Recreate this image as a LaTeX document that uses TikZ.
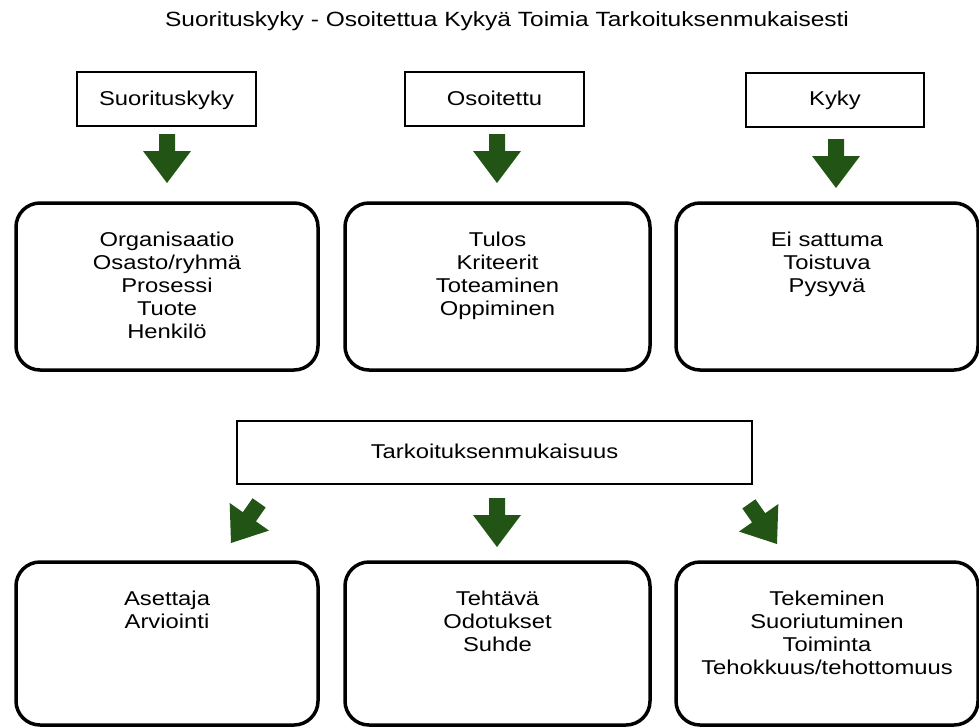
\documentclass[tikz,border=0pt]{standalone}
\usepackage{fontspec}
\setmainfont{Liberation Sans}[FakeStretch=1.19]
\definecolor{arrowgreen}{RGB}{34,84,22}
\begin{document}
\begin{tikzpicture}[x=1pt,y=-1pt,
  every node/.style={font=\fontsize{20}{23}\selectfont},
  plainbox/.style={draw=black, line width=2pt, rectangle, inner sep=0pt, text height=15pt, text depth=3pt},
  roundbox/.style={draw=black, line width=3.5pt, rectangle, rounded corners=24pt, inner sep=0pt},
  boxtext/.style={anchor=north, align=center, inner sep=0pt},
  blockarrow/.pic={\fill[arrowgreen] (-8,-49) -- (8,-49) -- (8,-32) -- (24,-32) -- (0,0) -- (-24,-32) -- (-8,-32) -- cycle;}]
\fill[white] (0,0) rectangle (979,726);
\useasboundingbox (0,0) rectangle (979,726);

% title
\node[font=\fontsize{20.6}{24}\selectfont] (title) at (507,21) {Suorituskyky - Osoitettua Kykyä Toimia Tarkoituksenmukaisesti};

% top small boxes
\node[plainbox, minimum width=179pt, minimum height=54pt] (s1) at (166.5,99) {Suorituskyky};
\node[plainbox, minimum width=179pt, minimum height=54pt] (s2) at (494.5,99) {Osoitettu};
\node[plainbox, minimum width=178pt, minimum height=54pt] (s3) at (835,99.5) {Kyky};

% arrows top
\pic at (167,183) {blockarrow};
\pic at (497,183) {blockarrow};
\pic at (836,188) {blockarrow};

% big boxes row 1
\node[roundbox, minimum width=302pt, minimum height=167pt] (b1) at (167,286.5) {};
\node[roundbox, minimum width=305pt, minimum height=167pt] (b2) at (497.5,286.5) {};
\node[roundbox, minimum width=302pt, minimum height=167pt] (b3) at (827,286.5) {};
\node[boxtext] (t1) at ([yshift=-31pt]b1.north) {Organisaatio\\Osasto/ryhmä\\Prosessi\\Tuote\\Henkilö};
\node[boxtext] (t2) at ([yshift=-31pt]b2.north) {Tulos\\Kriteerit\\Toteaminen\\Oppiminen};
\node[boxtext] (t3) at ([yshift=-31pt]b3.north) {Ei sattuma\\Toistuva\\Pysyvä};

% middle box
\node[plainbox, minimum width=515pt, minimum height=63pt] (mid) at (494.5,452.5) {Tarkoituksenmukaisuus};

% arrows bottom
\pic[rotate=-35] at (231,543) {blockarrow};
\pic at (497,547) {blockarrow};
\pic[rotate=35] at (777,544) {blockarrow};

% big boxes row 2
\node[roundbox, minimum width=302pt, minimum height=163pt] (c1) at (167,643.5) {};
\node[roundbox, minimum width=305pt, minimum height=163pt] (c2) at (497.5,643.5) {};
\node[roundbox, minimum width=302pt, minimum height=163pt] (c3) at (827,643.5) {};
\node[boxtext] (u1) at ([yshift=-31pt]c1.north) {Asettaja\\Arviointi};
\node[boxtext] (u2) at ([yshift=-31pt]c2.north) {Tehtävä\\Odotukset\\Suhde};
\node[boxtext] (u3) at ([yshift=-31pt]c3.north) {Tekeminen\\Suoriutuminen\\Toiminta\\Tehokkuus/tehottomuus};
\end{tikzpicture}
\end{document}
